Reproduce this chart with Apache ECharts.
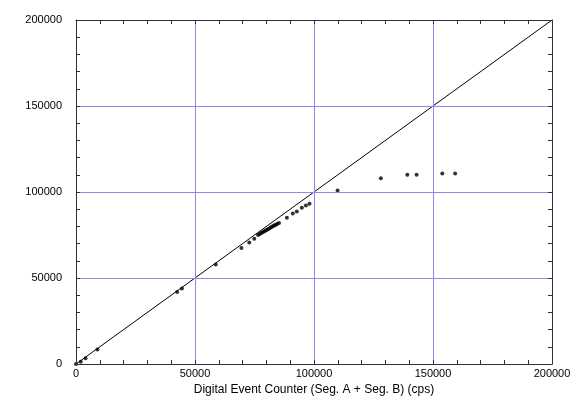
<!DOCTYPE html>
<html>
<head>
  <meta charset="utf-8">
  <script src="https://cdn.jsdelivr.net/npm/echarts@6/dist/echarts.min.js"></script>
</head>
<body style="margin: 0">
  <div id="container" style="width: 582px; height: 412px"></div>
  <script>
    // measured points (cps)
    var xValues = [0, 2000, 4000, 9000, 42500, 44500, 58700, 69500, 72800, 74900,
      76500, 77200, 77800, 78400, 79000, 79500, 80100, 80600, 81200, 81800,
      82300, 82900, 83400, 84000, 84600, 85300,
      88600, 91100, 92800, 94900, 96600, 98100,
      109900, 128100, 139200, 143100, 153900, 159300];
    var yValues = [0, 1300, 3300, 8500, 41900, 43900, 57800, 67400, 70700, 72800,
      75000, 75600, 76100, 76600, 77100, 77500, 77900, 78400, 78800, 79300,
      79800, 80200, 80600, 81000, 81500, 82000,
      85000, 87500, 88700, 90800, 92200, 93200,
      100900, 108000, 110000, 110000, 110700, 110700];
    var refLine = [[0, 0], [200000, 200000]];
    var xName = 'Digital Event Counter (Seg. A + Seg. B) (cps)';

    var points = xValues.map(function (x, i) { return [x, yValues[i]]; });

    var AXIS = '#2e2e44';
    function axis(extra) {
      var a = {
        type: 'value', min: 0, max: 200000, interval: 50000, z: 10,
        axisLine: { show: true, onZero: false, lineStyle: { color: AXIS, width: 1 } },
        axisTick: { show: true, inside: true, length: 4, lineStyle: { color: AXIS, width: 1 } },
        minorTick: { show: true, splitNumber: 5, length: 4, lineStyle: { color: AXIS, width: 1 } },
        axisLabel: { show: false },
        splitLine: { show: false }
      };
      return Object.assign(a, extra);
    }
    function label(margin) {
      return {
        show: true, margin: margin, color: '#000', fontSize: 11, fontFamily: 'Liberation Sans',
        formatter: function (v) { return String(v); }
      };
    }
    function gridLine() {
      return { show: true, showMinLine: false, showMaxLine: false, lineStyle: { color: '#8a8aea', width: 1 } };
    }

    var chart = echarts.init(document.getElementById('container'));
    chart.setOption({
      animation: false,
      grid: { left: 76, right: 30, top: 20, bottom: 48 },
      xAxis: [
        axis({
          position: 'bottom',
          name: xName, nameLocation: 'middle', nameGap: 17,
          nameTextStyle: { color: '#000', fontSize: 12, fontFamily: 'Liberation Sans' },
          axisLabel: label(4), splitLine: gridLine()
        }),
        axis({ position: 'top' })
      ],
      yAxis: [
        axis({ position: 'left', axisLabel: label(14), splitLine: gridLine() }),
        axis({ position: 'right' })
      ],
      series: [
        {
          type: 'line', data: refLine, symbol: 'none',
          lineStyle: { color: '#000', width: 1 }
        },
        {
          type: 'scatter', data: points, symbolSize: 4,
          itemStyle: { color: '#000' }
        }
      ]
    });
  </script>
</body>
</html>
